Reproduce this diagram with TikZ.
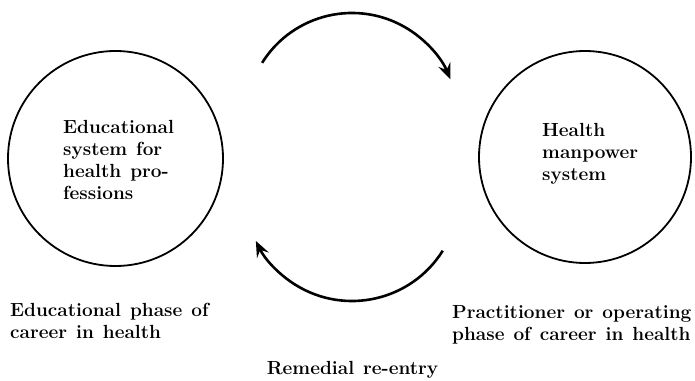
\documentclass[tikz,border=0pt]{standalone}
\usetikzlibrary{arrows.meta}
\newcommand{\captionfont}{\fontsize{19}{22}\selectfont\bfseries\spaceskip=9pt plus 2pt\relax}
\begin{document}
\begin{tikzpicture}[x=1pt,y=1pt,
  label text/.style={font=\captionfont, align=left, inner sep=0pt, anchor=north west},
  system/.style={draw, line width=1.8pt, circle, minimum size=#1, inner sep=0pt},
  flow/.style={line width=2.6pt, -{Stealth[length=16pt,width=13pt,inset=6pt]}}]
  \useasboundingbox (0,0) rectangle (695,380);

  % the two systems
  \node[system=215pt] (edu) at (115.5,221.5) {};
  \node[system=212pt] (man) at (585,223) {};

  \node[label text] (edutext) at (63,260) {Educational\\system for\\health pro-\\fessions};
  \node[label text] (mantext) at (542,257) {Health\\manpower\\system};

  % flow from education into practice, and remedial return
  \coordinate (topstart) at ({352+106*cos(148)},{261+106*sin(148)});
  \draw[flow] (topstart) arc[start angle=148, end angle=22, radius=106pt];
  \coordinate (botstart) at ({352+107*cos(-32)},{186+107*sin(-32)});
  \draw[flow] (botstart) arc[start angle=-32, end angle=-154, radius=107pt];

  % captions
  \node[label text] (eduphase) at (10,77) {Educational phase of\\career in health};
  \node[label text] (manphase) at (452,75) {Practitioner or operating\\phase of career in health};
  \node[label text, anchor=north] (remedial) at (352.5,19) {Remedial re-entry};
\end{tikzpicture}
\end{document}
